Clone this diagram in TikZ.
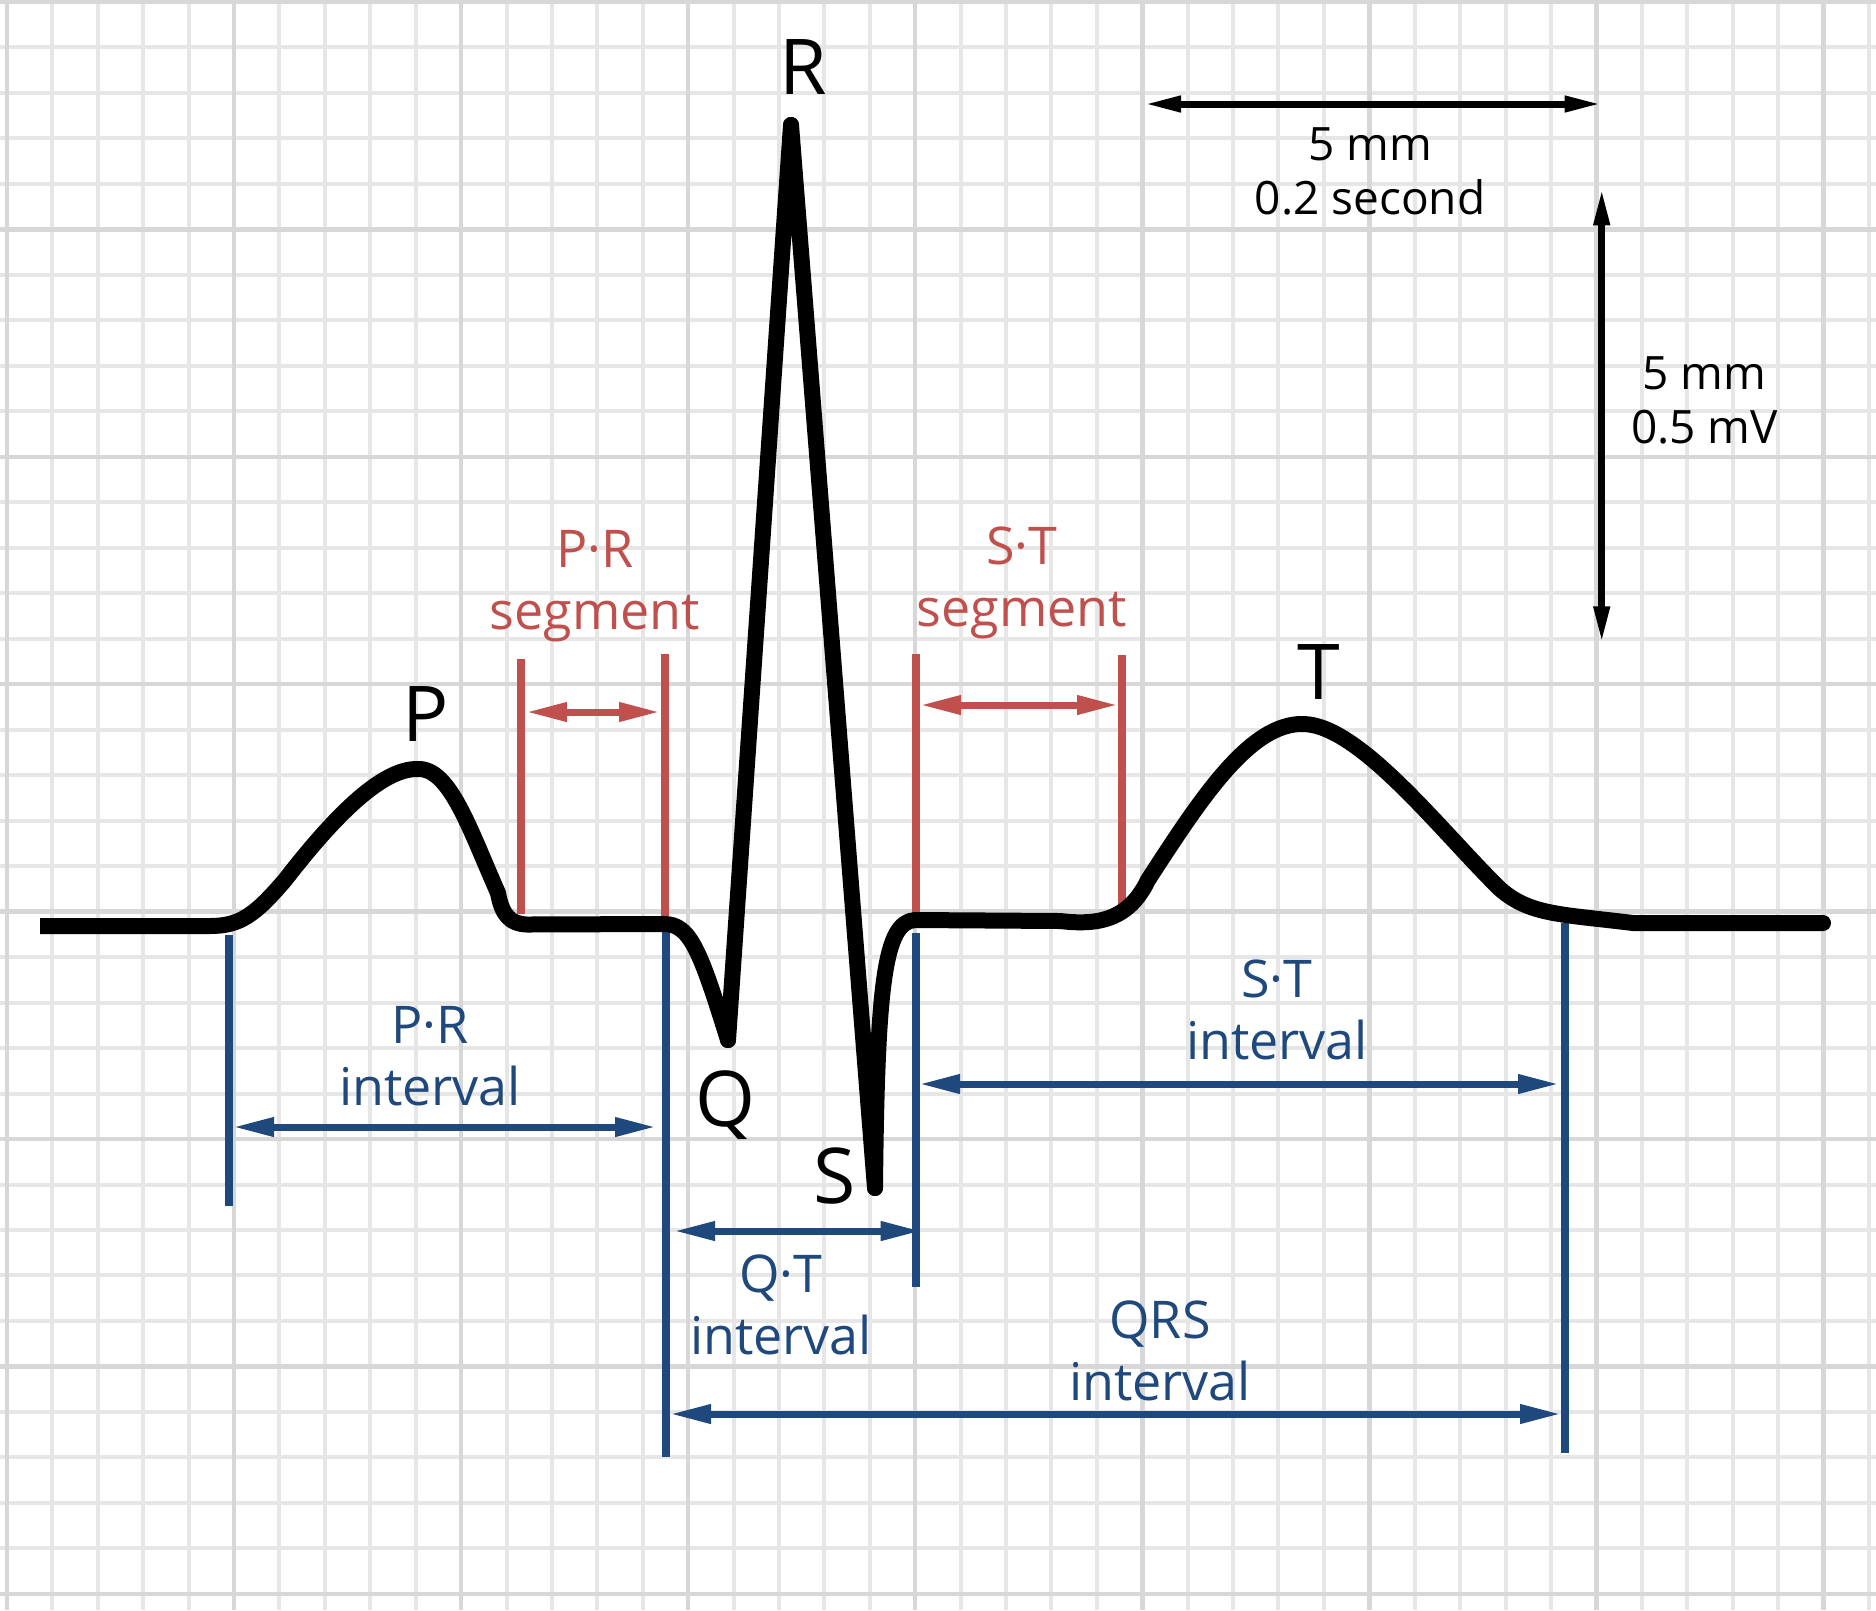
\documentclass[tikz,border=0pt]{standalone}
\usepackage{fontspec}
\setmainfont{Open Sans}
\usetikzlibrary{arrows.meta}
\definecolor{ecgred}{HTML}{C0504D}
\definecolor{ecgblue}{HTML}{1F497D}
\definecolor{gridminor}{HTML}{E6E6E6}
\definecolor{gridmajor}{HTML}{D7D7D7}
\begin{document}
\begin{tikzpicture}[x=1pt,y=-1pt,
  minorgrid/.style={gridminor,line width=4pt},
  majorgrid/.style={gridmajor,line width=4.5pt},
  wave/.style={black,line width=16pt,line join=round},
  redline/.style={ecgred,line width=8pt},
  blueline/.style={ecgblue,line width=8pt},
  redarrow/.style={ecgred,line width=7pt,{Triangle[length=41pt,width=18pt]}-{Triangle[length=41pt,width=18pt]}},
  bluearrow/.style={ecgblue,line width=7pt,{Triangle[length=41pt,width=18pt]}-{Triangle[length=41pt,width=18pt]}},
  blackarrow/.style={black,line width=7pt,{Triangle[length=37pt,width=15pt]}-{Triangle[length=37pt,width=15pt]}},
  wavelabel/.style={inner sep=0pt,anchor=base,font=\fontsize{77pt}{90pt}\selectfont},
  redlabel/.style={inner sep=0pt,anchor=base,align=center,text=ecgred,font=\fontsize{52pt}{62pt}\selectfont},
  bluelabel/.style={inner sep=0pt,anchor=base,align=center,text=ecgblue,font=\fontsize{52pt}{62pt}\selectfont},
  scalelabel/.style={inner sep=0pt,anchor=base,align=center,font=\fontsize{46pt}{54pt}\selectfont}
]
\useasboundingbox (0,0) rectangle (1876,1610);
\fill[white] (0,0) rectangle (1876,1610);
% grid
\foreach \k in {0,...,41} {\draw[minorgrid] ({7+\k*45.41},0) -- ({7+\k*45.41},1610);}
\foreach \k in {0,...,35} {\draw[minorgrid] (0,{2+\k*45.48}) -- (1876,{2+\k*45.48});}
\foreach \k in {0,5,...,40} {\draw[majorgrid] ({7+\k*45.41},0) -- ({7+\k*45.41},1610);}
\foreach \k in {0,5,...,35} {\draw[majorgrid] (0,{2+\k*45.48}) -- (1876,{2+\k*45.48});}

% red segment markers
\coordinate (prsL) at (520.5,659); \coordinate (prsLb) at (520.5,914);
\coordinate (prsR) at (665,654);   \coordinate (prsRb) at (665,916);
\coordinate (stsL) at (915.7,654); \coordinate (stsLb) at (915.7,913);
\coordinate (stsR) at (1122.4,655);\coordinate (stsRb) at (1122.4,911);
\draw[redline] (prsL) -- (prsLb);
\draw[redline] (prsR) -- (prsRb);
\draw[redline] (stsL) -- (stsLb);
\draw[redline] (stsR) -- (stsRb);
\coordinate (prsA1) at (526,712); \coordinate (prsA2) at (660,712);
\coordinate (stsA1) at (920,705); \coordinate (stsA2) at (1118,705);
\draw[redarrow] (prsA1) -- (prsA2);
\draw[redarrow] (stsA1) -- (stsA2);

% blue interval markers
\coordinate (priT) at (229.4,935); \coordinate (priB) at (229.4,1206);
\coordinate (qrsT) at (666,932);   \coordinate (qrsB) at (666,1457);
\coordinate (qtT) at (915.5,933);  \coordinate (qtB) at (915.5,1287);
\coordinate (endT) at (1565,923);  \coordinate (endB) at (1565,1453);
\draw[blueline] (priT) -- (priB);
\draw[blueline] (qrsT) -- (qrsB);
\draw[blueline] (qtT) -- (qtB);
\draw[blueline] (endT) -- (endB);
\coordinate (priA1) at (233,1127);  \coordinate (priA2) at (656,1127);
\coordinate (qtA1) at (674,1231);   \coordinate (qtA2) at (921.7,1231);
\coordinate (stiA1) at (919,1084);  \coordinate (stiA2) at (1559,1084);
\coordinate (qrsA1) at (670,1414);  \coordinate (qrsA2) at (1561,1414);
\draw[bluearrow] (priA1) -- (priA2);
\draw[bluearrow] (qtA1) -- (qtA2);
\draw[bluearrow] (stiA1) -- (stiA2);
\draw[bluearrow] (qrsA1) -- (qrsA2);

% scale arrows
\coordinate (hA1) at (1144,104); \coordinate (hA2) at (1601.6,104);
\coordinate (vA1) at (1601.7,188.3); \coordinate (vA2) at (1601.7,643.3);
\draw[blackarrow] (hA1) -- (hA2);
\draw[blackarrow] (vA1) -- (vA2);

% ECG waveform
\draw[wave] (40,926) -- (210,926)
  .. controls (240,926) and (255,915) .. (285,880)
  .. controls (330,822) and (380,768) .. (418,769)
  .. controls (450,768) and (470,830) .. (498,893)
  .. controls (502,915) and (510,924) .. (527,924.5)
  -- (664,924)
  .. controls (690,924) and (700,950) .. (728,1040)
  -- (791,125) -- (875,1188)
  .. controls (877,980) and (885,922) .. (915,920)
  -- (1060,921)
  .. controls (1095,925) and (1128,922) .. (1148,880)
  .. controls (1200,800) and (1250,722) .. (1304,724)
  .. controls (1360,726) and (1440,830) .. (1500,889)
  .. controls (1530,915) and (1560,914) .. (1633,923)
  -- (1823,923);
\fill (1823,923) circle (8);
\fill (791,125) circle (8);
\fill (728,1040) circle (8);
\fill (875,1188) circle (8);

% wave labels
\node[wavelabel] (lblR) at (803,94.5) {R};
\node[wavelabel] (lblP) at (426,741) {P};
\node[wavelabel] (lblQ) at (725,1126.6) {Q};
\node[wavelabel] (lblS) at (835,1203) {S};
\node[wavelabel] (lblT) at (1318.6,699.7) {T};

% red labels (anchor = baseline of last line)
\node[redlabel] (lblPRs) at (595,629.3) {P·R\\segment};
\node[redlabel] (lblSTs) at (1022,626.5) {S·T\\segment};

% blue labels
\node[bluelabel] (lblPRi) at (430,1105.3) {P·R\\interval};
\node[bluelabel] (lblSTi) at (1277,1059.5) {S·T\\interval};
\node[bluelabel] (lblQTi) at (781,1354) {Q·T\\interval};
\node[bluelabel] (lblQRSi) at (1160,1400) {QRS\\interval};

% scale labels
\node[scalelabel] (lblTime) at (1370,214) {5 mm\\0.2 second};
\node[scalelabel] (lblVolt) at (1704.5,443.3) {5 mm\\0.5 mV};
\end{tikzpicture}
\end{document}
